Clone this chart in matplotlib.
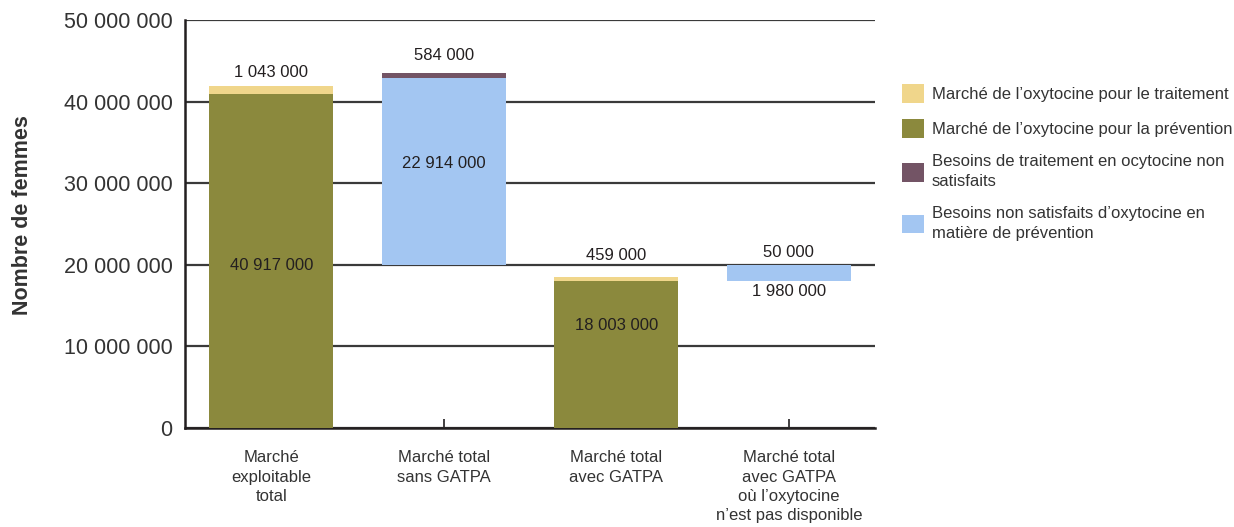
import matplotlib.pyplot as plt
from matplotlib.patches import Patch
from matplotlib.ticker import FuncFormatter

plt.rcParams['font.family'] = ['Liberation Sans', 'DejaVu Sans']

# Data
categories = ["Marché\nexploitable\ntotal",
              "Marché total\nsans GATPA",
              "Marché total\navec GATPA",
              "Marché total\navec GATPA\noù l’oxytocine\nn’est pas disponible"]
base = [0, 20033000, 0, 18003000]
prevention = [40917000, 0, 18003000, 0]
treatment = [1043000, 0, 459000, 0]
unmet_prevention = [0, 22914000, 0, 1980000]
unmet_treatment = [0, 584000, 0, 50000]

legend_labels = ["Marché de l’oxytocine pour le traitement",
                 "Marché de l’oxytocine pour la prévention",
                 "Besoins de traitement en ocytocine non\nsatisfaits",
                 "Besoins non satisfaits d’oxytocine en\nmatière de prévention"]

c_treat = '#F0D68B'
c_prev = '#8B893D'
c_unmet_treat = '#735465'
c_unmet_prev = '#A3C6F2'
txt = '#231F20'


def fmt(v):
    return f"{int(v):,}".replace(",", " ")


fig = plt.figure(figsize=(12.34, 5.27), dpi=100)
ax = fig.add_axes([0.1499, 0.1879, 0.5592, 0.774])

x = range(len(categories))
w = 0.72
bottom2 = [b + p for b, p in zip(base, prevention)]
ax.bar(x, prevention, w, bottom=base, color=c_prev, zorder=3)
ax.bar(x, treatment, w, bottom=bottom2, color=c_treat, zorder=3)
bottom3 = [b + u for b, u in zip(base, unmet_prevention)]
ax.bar(x, unmet_prevention, w, bottom=base, color=c_unmet_prev, zorder=3)
ax.bar(x, unmet_treatment, w, bottom=bottom3, color=c_unmet_treat, zorder=3)

# value labels
lab = dict(ha='center', va='center', fontsize=12, color=txt, zorder=5)
ax.text(0, 43600000, fmt(treatment[0]), **lab)
ax.text(0, 19900000, fmt(prevention[0]), **lab)
ax.text(1, 45600000, fmt(unmet_treatment[1]), **lab)
ax.text(1, 32400000, fmt(unmet_prevention[1]), **lab)
ax.text(2, 21100000, fmt(treatment[2]), **lab)
ax.text(2, 12600000, fmt(prevention[2]), **lab)
ax.text(3, 21500000, fmt(unmet_treatment[3]), **lab)
ax.text(3, 16700000, fmt(unmet_prevention[3]), **lab)

ax.set_xlim(-0.5, 3.5)
ax.set_ylim(0, 50000000)
ax.set_yticks(range(0, 50000001, 10000000))
ax.yaxis.set_major_formatter(FuncFormatter(lambda v, p: fmt(v)))
ax.yaxis.grid(True, color='#3A3A3A', linewidth=1.6, zorder=1)
ax.set_axisbelow(True)

ax.set_xticks(list(x))
ax.set_xticklabels(categories, fontsize=12, color='#333333', linespacing=1.36)
ax.tick_params(axis='x', direction='in', length=6.5, width=1.2, pad=16, color=txt)
ax.tick_params(axis='y', length=0, pad=9, labelsize=15.5, labelcolor='#333333')

for s in ['top', 'right']:
    ax.spines[s].set_visible(False)
for s in ['left', 'bottom']:
    ax.spines[s].set_linewidth(1.8)
    ax.spines[s].set_color(txt)

fig.text(23 / 1234, 0.592, "Nombre de femmes", rotation=90, ha='center', va='center',
         fontsize=15.5, fontweight='bold', color='#333333')

handles = [Patch(facecolor=c, edgecolor='none') for c in [c_treat, c_prev, c_unmet_treat, c_unmet_prev]]
leg = fig.legend(handles, legend_labels, loc='upper left', bbox_to_anchor=(0.731, 0.840),
                 frameon=False, fontsize=12, handlelength=1.32, handleheight=1.32,
                 handletextpad=0.48, labelspacing=1.0, borderpad=0, borderaxespad=0,
                 labelcolor='#333333')
for t in leg.get_texts():
    t.set_linespacing(1.42)

fig.savefig('out.png', dpi=100)
